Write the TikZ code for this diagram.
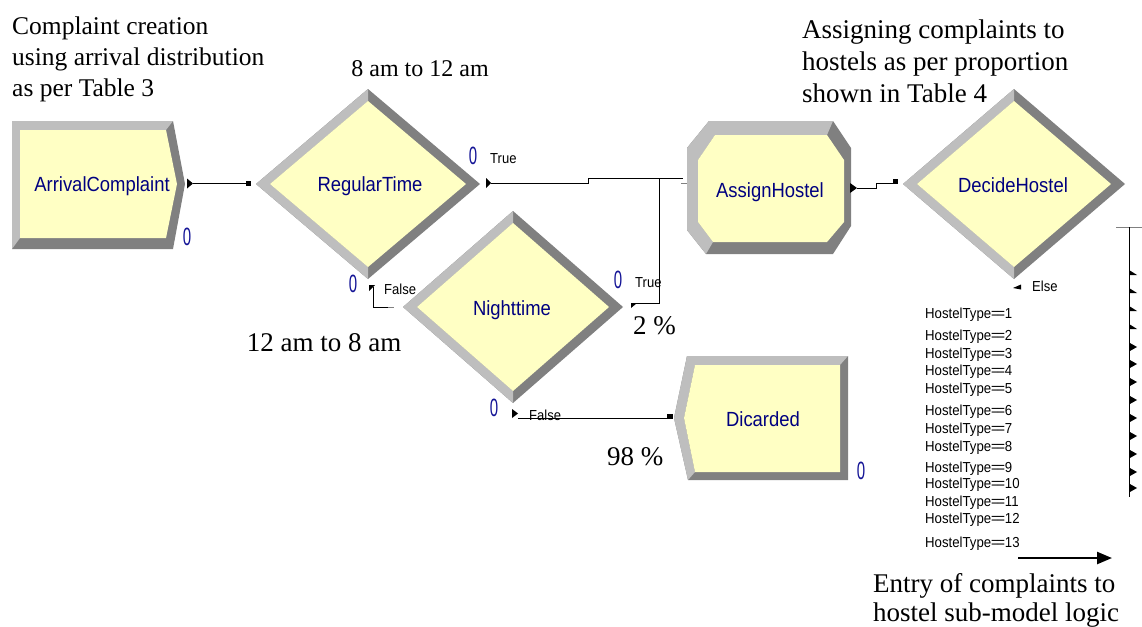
\documentclass[tikz,border=0pt]{standalone}
\usepackage{fontspec}
\setmainfont{Liberation Serif}
\newfontfamily\arialf{Liberation Sans}
\usetikzlibrary{arrows.meta,calc}
\definecolor{yel}{RGB}{255,255,196}
\definecolor{lite}{RGB}{190,190,190}
\definecolor{drk}{RGB}{128,128,128}
\definecolor{navyl}{RGB}{0,0,128}
\definecolor{zeroc}{RGB}{20,20,150}
\newcommand\decidebox[5]{%
 \coordinate (#1) at (#2,#3);
 \fill[drk] (#2-#4,#3) -- (#2,#3-#5) -- (#2+#4,#3) -- (#2,#3+#5) -- cycle;
 \fill[lite] (#2-#4,#3) -- (#2,#3-#5) -- (#2,#3-#5+12) -- (#2-#4+14,#3) -- (#2,#3+#5-12) -- (#2,#3+#5) -- cycle;
 \fill[yel] (#2-#4+14,#3) -- (#2,#3-#5+12) -- (#2+#4-14,#3) -- (#2,#3+#5-12) -- cycle;
}
\newcommand\hostelzero{\scalebox{0.6}[1]{0}}
\newcommand\narrowlbl[1]{\scalebox{0.9}[1]{#1}}
\tikzset{
 modlabel/.style={font=\arialf\fontsize{20.5}{22}\selectfont, text=navyl, inner sep=0, anchor=base},
 counter/.style={font=\arialf\fontsize{25}{25}\selectfont, text=zeroc, inner sep=0},
 branch/.style={font=\arialf\fontsize{14.5}{16}\selectfont, inner sep=0, anchor=base west},
 note/.style={align=left, inner sep=0, anchor=north west},
 onenote/.style={inner sep=0},
 conn/.style={line width=0.9pt, black},
 hostel/.style={font=\arialf\fontsize{14.5}{16}\selectfont, inner sep=0, anchor=base west},
 entrysq/.style={fill=black, draw=none, inner sep=0, minimum width=5pt, minimum height=5pt},
}
\begin{document}
\begin{tikzpicture}[x=1pt,y=-1pt]
\useasboundingbox (0,0) rectangle (1142,626);
\fill[white] (0,0) rectangle (1142,626);

% ---------- ArrivalComplaint (create) ----------
\fill[drk] (12,121) -- (173,121) -- (185,184) -- (173,249) -- (12,249) -- cycle;
\fill[lite] (12,249) -- (12,121) -- (173,121) -- (166,130) -- (20,130) -- (20,238) -- cycle;
\fill[yel] (20,130) -- (166,130) -- (177,184) -- (166,238) -- (20,238) -- cycle;
\node[modlabel] (ac) at (102,191) {\narrowlbl{ArrivalComplaint}};
\node[counter] (ac0) at (187,237) {\hostelzero};

% ---------- RegularTime ----------
\decidebox{rt}{368}{184}{112}{95}
\node[modlabel] (rtl) at (370,191) {\narrowlbl{RegularTime}};
\node[counter] (rt0a) at (473,156) {\hostelzero};
\node[branch] (rtT) at (490,163) {\narrowlbl{True}};
\node[counter] (rt0b) at (353,284) {\hostelzero};
\node[branch] (rtF) at (384,294) {\narrowlbl{False}};

% ---------- Nighttime ----------
\decidebox{nt}{513}{307}{110}{96}
\node[modlabel] (ntl) at (512,315) {\narrowlbl{Nighttime}};
\node[counter] (nt0a) at (618,280) {\hostelzero};
\node[branch] (ntT) at (635,287) {\narrowlbl{True}};
\node[counter] (nt0b) at (494,408) {\hostelzero};
\node[branch] (ntF) at (529,420) {\narrowlbl{False}};

% ---------- AssignHostel ----------
\fill[drk] (709,121) -- (833,121) -- (851,148) -- (851,226) -- (833,254) -- (706,254) -- (687,230) -- (687,148) -- cycle;
\fill[lite] (706,254) -- (687,230) -- (687,148) -- (709,121) -- (833,121) -- (827,135) -- (715,135) -- (698,160) -- (698,222) -- (713,242) -- cycle;
\fill[yel] (715,135) -- (827,135) -- (844,160) -- (844,222) -- (827,242) -- (713,242) -- (698,222) -- (698,160) -- cycle;
\node[modlabel] (ahl) at (770,197) {\narrowlbl{AssignHostel}};

% ---------- DecideHostel ----------
\decidebox{dh}{1014}{184}{111}{95}
\node[modlabel] (dhl) at (1013,192) {\narrowlbl{DecideHostel}};
\node[branch] (dhE) at (1032,291) {\narrowlbl{Else}};

% ---------- Dicarded (dispose) ----------
\fill[drk] (687,356) -- (848,356) -- (848,480) -- (688,480) -- (674,418) -- cycle;
\fill[lite] (688,480) -- (674,418) -- (687,356) -- (848,356) -- (840,365) -- (695,365) -- (684,418) -- (695,472) -- cycle;
\fill[yel] (695,365) -- (840,365) -- (840,472) -- (695,472) -- (684,418) -- cycle;
\node[modlabel] (dcl) at (763,426) {\narrowlbl{Dicarded}};
\node[counter] (dc0) at (861,471) {\hostelzero};

% ---------- connection points ----------
\coordinate (ac-out) at (193,183.5);
\coordinate (rt-in) at (248,183.5);
\coordinate (rt-true) at (491,183);
\coordinate (rt-false) at (373,287);
\coordinate (nt-in) at (394,307);
\coordinate (nt-true) at (632,303);
\coordinate (nt-false) at (518,418);
\coordinate (ah-in) at (683,178);
\coordinate (ah-out) at (857,188);
\coordinate (dh-in) at (895,183);
\coordinate (dc-in) at (670,418);
\coordinate (dh-else) at (1013,287);

% exit markers
\fill (187,178.5) -- (193,183.5) -- (187,188.5) -- cycle;
\fill (486,178) -- (491,183) -- (486,188) -- cycle;
\fill (369,285) -- (375,285) -- (369,291) -- cycle;
\fill (631,303) -- (637,303) -- (631,308) -- cycle;
\fill (512,409) -- (518,413.5) -- (512,418) -- cycle;
\fill (850,183) -- (857,188) -- (850,193) -- cycle;
\fill (1013,288) -- (1021,284.5) -- (1021,289.5) -- cycle;

% connectors
\draw[conn] (ac-out) -- (rt-in);
\node[entrysq] (rt-sq) at (rt-in) {};
\draw[conn] (rt-true) -- (588,183) -- (588,178) -- (ah-in);
\draw[drk, line width=0.9pt] (681,183) -- (687,183);
\draw[conn] (nt-true) -- (659,303) -- (659,178);
\draw[conn] (rt-false) -- (373,307) -- (388,307);
\draw[drk, line width=0.9pt] (388,307) -- (nt-in);
\draw[conn] (nt-false) -- (dc-in);
\node[entrysq, minimum width=6pt] (dc-sq) at (670,416.5) {};
\draw[conn] (ah-out) -- (876,188) -- (876,183) -- (dh-in);
\node[entrysq] (dh-sq) at (895,181) {};

% right bus
\coordinate (bus-top) at (1129,227);
\coordinate (bus-bot) at (1129,497);
\draw[drk, line width=0.9pt] (1116,227) -- (1142,227);
\draw[conn] (bus-top) -- (bus-bot);
\foreach \yy in {273,291,309,327}{
  \fill (1129,\yy-3) -- (1137,\yy+2) -- (1129,\yy+2) -- cycle;}
\foreach \yy in {347,364,382,400,418,436,454,472,488}{
  \fill (1129,\yy-4.5) -- (1137,\yy) -- (1129,\yy+4.5) -- cycle;}

% hostel conditions
\foreach \nn/\yy in {1/318,2/340,3/358,4/375,5/393,6/415,7/433,8/451,9/472,10/488,11/506,12/523,13/547}{
  \node[hostel] (ht\nn) at (925,\yy) {\scalebox{0.91}[1]{HostelType=\kern-1.8pt=\nn}};}

% ---------- annotations ----------
\node[note, font=\fontsize{25.5}{31}\selectfont] (n1) at (12,16.5) {Complaint creation\\using arrival distribution\\as per Table 3};
\node[onenote, anchor=base, font=\fontsize{24}{28}\selectfont] (n2) at (420,77) {8 am to 12 am};
\node[note, font=\fontsize{27}{32}\selectfont] (n3) at (802,20) {Assigning complaints to\\hostels as per proportion\\shown in Table 4};
\node[onenote, anchor=base, font=\fontsize{27}{30}\selectfont] (n4) at (324,351) {12 am to 8 am};
\node[onenote, anchor=base west, font=\fontsize{27}{30}\selectfont] (n5) at (633,334) {2 \%};
\node[onenote, anchor=base west, font=\fontsize{27}{30}\selectfont] (n6) at (607,465) {98 \%};
\node[note, font=\fontsize{27}{29}\selectfont] (n7) at (873,573.5) {Entry of complaints to\\hostel sub-model logic};
\coordinate (ent-a) at (1018,558);
\coordinate (ent-b) at (1112,558);
\draw[line width=2.4pt, -{Triangle[length=15pt,width=12pt]}] (ent-a) -- (ent-b);
\end{tikzpicture}
\end{document}
